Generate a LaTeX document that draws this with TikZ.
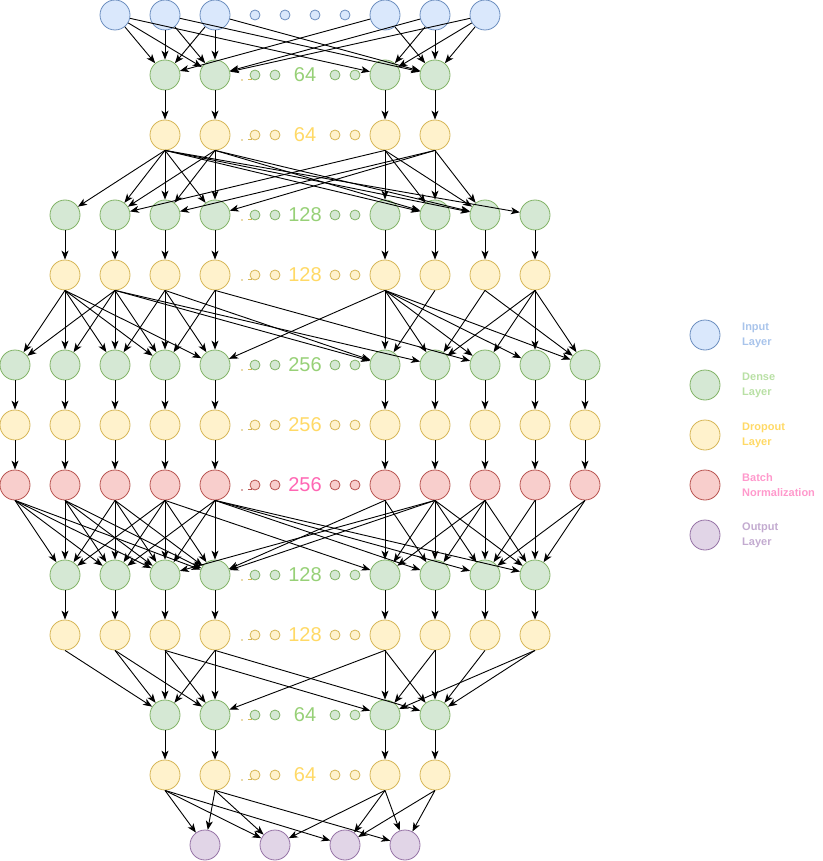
\documentclass[tikz,border=0pt]{standalone}
\usepackage{fontspec}
\setmainfont{Liberation Sans}
\usetikzlibrary{arrows.meta}
\definecolor{inF}{HTML}{DAE8FC}\definecolor{inD}{HTML}{6C8EBF}
\definecolor{dnF}{HTML}{D5E8D4}\definecolor{dnD}{HTML}{82B366}
\definecolor{drF}{HTML}{FFF2CC}\definecolor{drD}{HTML}{D6B656}
\definecolor{bnF}{HTML}{F8CECC}\definecolor{bnD}{HTML}{B85450}
\definecolor{otF}{HTML}{E1D5E7}\definecolor{otD}{HTML}{9673A6}
\definecolor{dnT}{HTML}{97D077}\definecolor{drT}{HTML}{FFD966}\definecolor{bnT}{HTML}{FF66B3}
\definecolor{inL}{HTML}{A9C4EB}\definecolor{dnL}{HTML}{B9E0A5}\definecolor{drL}{HTML}{FFD966}
\definecolor{bnL}{HTML}{FF99CC}\definecolor{otL}{HTML}{C3ABD0}
\newcommand\myrow[7]{%
  \foreach \x in {255,275,335,355} \node[dotn,draw=#4,fill=#3] (#1s\x) at (\x,#2) {};
  \node[text=#5,font=\fontsize{20}{24}\selectfont,inner sep=0pt] (#1t) at (305,#2) {#6};
  \fill[#7] (242,#2+5) circle (0.9);
  \draw[#7,line width=0.8pt] (248,#2+4) -- (252,#2+4);
}
\begin{document}
\begin{tikzpicture}[x=1pt,y=-1pt,
  neuron/.style={circle,minimum size=30pt,inner sep=0pt,line width=0.8pt},
  inp/.style={neuron,draw=inD,fill=inF},
  dns/.style={neuron,draw=dnD,fill=dnF},
  drp/.style={neuron,draw=drD,fill=drF},
  bnm/.style={neuron,draw=bnD,fill=bnF},
  otp/.style={neuron,draw=otD,fill=otF},
  dotn/.style={circle,minimum size=10pt,inner sep=0pt,line width=0.8pt},
  edge/.style={-{Stealth[length=9pt,width=7pt,inset=2.5pt]},line width=0.9pt,black},
  lgtext/.style={anchor=west,align=left,inner sep=0pt,font=\bfseries\fontsize{11}{15}\selectfont}
]
\useasboundingbox (0,0) rectangle (822,861);
% ---------- nodes ----------
\foreach \x in {115,165,215,385,435,485} \node[inp] (I\x) at (\x,15) {};
\foreach \x in {255,285,315,345} \node[dotn,draw=inD,fill=inF] (Is\x) at (\x,15) {};
\foreach \x in {165,215,385,435} {\node[dns] (A\x) at (\x,75) {}; \node[drp] (B\x) at (\x,135) {};}
\myrow{A}{75}{dnF}{dnD}{dnT}{64}{drD}
\myrow{B}{135}{drF}{drD}{drT}{64}{drD}
\foreach \x in {65,115,165,215,385,435,485,535} {\node[dns] (C\x) at (\x,215) {}; \node[drp] (D\x) at (\x,275) {};}
\myrow{C}{215}{dnF}{dnD}{dnT}{128}{drD}
\myrow{D}{275}{drF}{drD}{drT}{128}{drD}
\foreach \x in {15,65,115,165,215,385,435,485,535,585} {\node[dns] (E\x) at (\x,365) {}; \node[drp] (F\x) at (\x,425) {}; \node[bnm] (G\x) at (\x,485) {};}
\myrow{E}{365}{dnF}{dnD}{dnT}{256}{drD}
\myrow{F}{425}{drF}{drD}{drT}{256}{drD}
\myrow{G}{485}{bnF}{bnD}{bnT}{256}{bnD}
\foreach \x in {65,115,165,215,385,435,485,535} {\node[dns] (H\x) at (\x,575) {}; \node[drp] (J\x) at (\x,635) {};}
\myrow{H}{575}{dnF}{dnD}{dnT}{128}{drD}
\myrow{J}{635}{drF}{drD}{drT}{128}{drD}
\foreach \x in {165,215,385,435} {\node[dns] (K\x) at (\x,715) {}; \node[drp] (L\x) at (\x,775) {};}
\myrow{K}{715}{dnF}{dnD}{dnT}{64}{drD}
\myrow{L}{775}{drF}{drD}{drT}{64}{drD}
\node[otp] (O1) at (205,845) {};
\node[otp] (O2) at (275,845) {};
\node[otp] (O3) at (345,845) {};
\node[otp] (O4) at (405,845) {};
% ---------- legend ----------
\node[inp] (lg1) at (705,335) {}; \node[lgtext,text=inL] (lt1) at (742,335) {Input\\Layer};
\node[dns] (lg2) at (705,385) {}; \node[lgtext,text=dnL] (lt2) at (742,385) {Dense\\Layer};
\node[drp] (lg3) at (705,435) {}; \node[lgtext,text=drL] (lt3) at (742,435) {Dropout\\Layer};
\node[bnm] (lg4) at (705,485) {}; \node[lgtext,text=bnL] (lt4) at (742,485) {Batch\\Normalization};
\node[otp] (lg5) at (705,535) {}; \node[lgtext,text=otL] (lt5) at (742,535) {Output\\Layer};
% ---------- edges ----------
\foreach \s/\t in {115/165,115/215,115/385,165/165,165/215,165/435,215/165,215/215,215/435,
  385/165,385/435,435/215,435/385,435/435,485/215,485/385,485/435}
  \draw[edge] (I\s) -- (A\t);
\foreach \x in {165,215,385,435} {\draw[edge] (A\x.south) -- (B\x); \draw[edge] (K\x.south) -- (L\x);}
\foreach \s/\t in {165/65,165/115,165/165,165/215,165/435,165/485,165/535,
  215/115,215/165,215/215,215/435,215/485,
  385/115,385/385,385/435,385/485,
  435/165,435/215,435/435,435/485}
  \draw[edge] (B\s.south) -- (C\t);
\foreach \x in {65,115,165,215,385,435,485,535} {\draw[edge] (C\x.south) -- (D\x); \draw[edge] (H\x.south) -- (J\x);}
\foreach \s/\t in {65/15,65/65,65/115,65/165,65/215,
  115/15,115/65,115/115,115/165,115/385,115/435,
  165/115,165/165,165/215,165/385,
  215/165,215/215,215/485,
  385/215,385/385,385/435,385/485,385/535,385/585,
  435/385,485/435,485/585,
  535/435,535/485,535/535,535/585}
  \draw[edge] (D\s.south) -- (E\t);
\foreach \x in {15,65,115,165,215,385,435,485,535,585} {\draw[edge] (E\x.south) -- (F\x); \draw[edge] (F\x.south) -- (G\x);}
\foreach \s/\t in {15/65,15/115,15/165,15/215,
  65/65,65/115,65/165,65/215,
  115/65,115/115,115/165,115/215,
  165/65,165/115,165/165,165/215,165/385,
  215/115,215/165,215/215,215/435,215/485,215/535,
  385/215,385/385,385/435,
  435/165,435/215,435/385,435/435,435/485,435/535,
  485/385,485/435,485/485,485/535,
  535/485,535/535,585/485,585/535}
  \draw[edge] (G\s.south) -- (H\t);
\foreach \s/\t in {65/165,115/165,115/215,165/165,165/215,165/385,
  215/215,215/165,215/435,385/385,385/435,385/215,
  435/435,435/385,485/435,535/385,535/435}
  \draw[edge] (J\s.south) -- (K\t);
\foreach \s/\t in {165/1,165/2,165/3,215/1,215/2,215/4,385/2,385/3,385/4,435/3,435/4}
  \draw[edge] (L\s.south) -- (O\t);
\end{tikzpicture}
\end{document}
